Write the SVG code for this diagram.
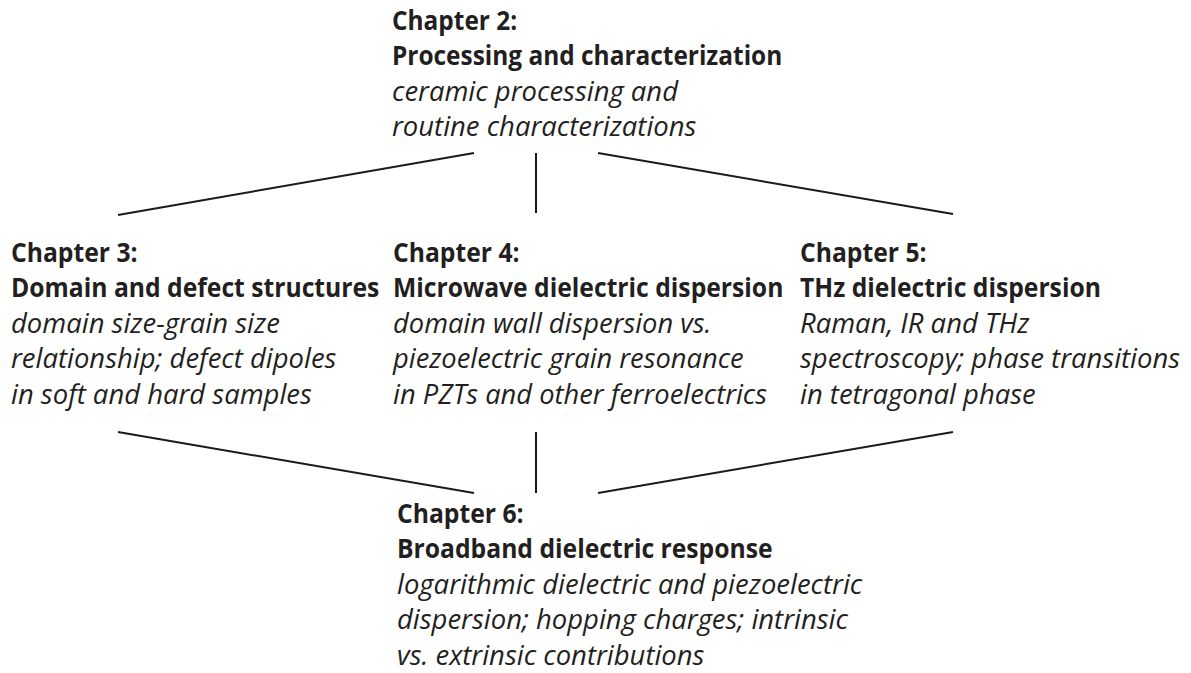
<svg xmlns="http://www.w3.org/2000/svg" width="1191" height="673" viewBox="0 0 1191 673">
<style>
  text { font-family: "Open Sans", "Noto Sans", sans-serif; font-size: 27px; fill: #231f20; }
  .b { font-weight: 700; }
  .i { font-style: italic; font-size: 28px; }
  .conn line { stroke: #1a1a1a; stroke-width: 2; }
</style>
<rect width="1191" height="673" fill="#ffffff"/>
<g id="ch2" transform="translate(392 0)">
  <g transform="scale(0.905 1)">
    <text class="b" x="0" y="30">Chapter 2:</text>
    <text class="b" x="0" y="65.5">Processing and characterization</text>
  </g>
  <g transform="scale(0.98 1)">
    <text class="i" x="0" y="101">ceramic processing and</text>
    <text class="i" x="0" y="136.5">routine characterizations</text>
  </g>
</g>
<g id="ch3" transform="translate(11 0)">
  <g transform="scale(0.915 1)">
    <text class="b" x="0" y="262">Chapter 3:</text>
    <text class="b" x="0" y="297.5">Domain and defect structures</text>
  </g>
  <g transform="scale(0.98 1)">
    <text class="i" x="0" y="333">domain size-grain size</text>
    <text class="i" x="0" y="368.5">relationship; defect dipoles</text>
    <text class="i" x="0" y="404">in soft and hard samples</text>
  </g>
</g>
<g id="ch4" transform="translate(393 0)">
  <g transform="scale(0.915 1)">
    <text class="b" x="0" y="262">Chapter 4:</text>
    <text class="b" x="0" y="297.5">Microwave dielectric dispersion</text>
  </g>
  <g transform="scale(0.975 1)">
    <text class="i" x="0" y="333">domain wall dispersion vs.</text>
    <text class="i" x="0" y="368.5">piezoelectric grain resonance</text>
    <text class="i" x="0" y="404">in PZTs and other ferroelectrics</text>
  </g>
</g>
<g id="ch5" transform="translate(800 0)">
  <g transform="scale(0.915 1)">
    <text class="b" x="0" y="262">Chapter 5:</text>
    <text class="b" x="0" y="297.5">THz dielectric dispersion</text>
  </g>
  <g transform="scale(0.98 1)">
    <text class="i" x="0" y="333">Raman, IR and THz</text>
    <text class="i" x="0" y="368.5">spectroscopy; phase transitions</text>
    <text class="i" x="0" y="404">in tetragonal phase</text>
  </g>
</g>
<g id="ch6" transform="translate(397 0)">
  <g transform="scale(0.915 1)">
    <text class="b" x="0" y="523">Chapter 6:</text>
    <text class="b" x="0" y="558.5">Broadband dielectric response</text>
  </g>
  <g transform="scale(0.98 1)">
    <text class="i" x="0" y="594">logarithmic dielectric and piezoelectric</text>
    <text class="i" x="0" y="629.5">dispersion; hopping charges; intrinsic</text>
    <text class="i" x="0" y="665">vs. extrinsic contributions</text>
  </g>
</g>
<g id="connectors" class="conn">
  <line x1="474" y1="153" x2="118" y2="215"/>
  <line x1="536" y1="153" x2="536" y2="213"/>
  <line x1="598" y1="153" x2="953" y2="214"/>
  <line x1="118" y1="432" x2="474" y2="493"/>
  <line x1="536" y1="432" x2="536" y2="493"/>
  <line x1="953" y1="432" x2="598" y2="493"/>
</g>
</svg>
